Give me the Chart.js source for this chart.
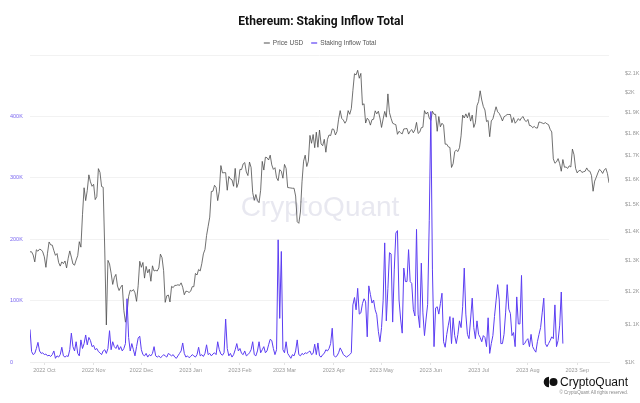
<!DOCTYPE html>
<html>
<head>
<meta charset="utf-8">
<script src="https://cdn.jsdelivr.net/npm/chart.js@4.4.0/dist/chart.umd.min.js"></script>
<style>
html,body{margin:0;padding:0;background:#fff;}
#wrap{width:640px;height:403px;position:relative;}
</style>
</head>
<body>
<div id="wrap"><canvas id="c" width="640" height="403"></canvas></div>
<script>
// ---- Data (daily) ----
const monthStarts = ['2022-09-22','2022-10-01','2022-11-01','2022-12-01','2023-01-01','2023-02-01','2023-03-01','2023-04-01','2023-05-01','2023-06-01','2023-07-01','2023-08-01','2023-09-01'];

const priceSep2022 = [1328,1328,1317,1294,1335,1330,1337,1335,1328];
const priceOct2022 = [1311,1276,1323,1362,1352,1351,1332,1316,1322,1292,1280,1294,1288,1297,1274,1306,1331,1310,1287,1283,1300,1315,1363,1344,1461,1566,1515,1555,1619,1590,1572];
const priceNov2022 = [1580,1519,1531,1645,1629,1571,1568,1334,1100,1299,1287,1257,1221,1243,1253,1216,1202,1212,1219,1142,1108,1135,1184,1203,1200,1205,1195,1169,1217,1296];
const priceDec2022 = [1276,1292,1241,1279,1258,1270,1231,1281,1264,1266,1264,1274,1320,1308,1265,1166,1186,1188,1167,1215,1211,1218,1218,1220,1218,1226,1212,1189,1200,1199,1196];
const priceJan2023 = [1200,1214,1214,1256,1251,1269,1264,1288,1321,1336,1385,1418,1452,1551,1552,1576,1567,1515,1552,1658,1627,1628,1628,1556,1612,1602,1598,1572,1646,1567,1586];
const priceFeb2023 = [1642,1641,1665,1671,1631,1616,1673,1650,1547,1516,1539,1515,1507,1556,1676,1639,1694,1692,1682,1703,1661,1642,1649,1607,1595,1641,1634,1605];
const priceMar2023 = [1663,1646,1567,1566,1565,1564,1564,1533,1435,1429,1471,1590,1677,1703,1654,1677,1792,1756,1796,1736,1807,1738,1817,1753,1745,1774,1716,1774,1794,1791,1822];
const priceApr2023 = [1820,1794,1810,1868,1910,1872,1864,1849,1862,1910,1892,1920,2012,2100,2094,2119,2076,2102,1938,1944,1850,1873,1864,1840,1866,1868,1909,1894,1907,1874];
const priceMay2023 = [1829,1869,1906,1878,1994,1900,1872,1849,1845,1842,1797,1811,1804,1799,1822,1823,1824,1798,1812,1819,1804,1818,1853,1801,1807,1828,1830,1910,1893,1903,1873];
const priceJun2023 = [1863,1907,1892,1892,1811,1881,1832,1849,1840,1752,1752,1740,1737,1650,1666,1718,1726,1719,1736,1790,1888,1874,1894,1875,1900,1859,1888,1829,1851,1934];
const priceJul2023 = [1955,2010,1963,1930,1913,1857,1862,1786,1860,1870,1900,1929,1904,1896,1880,1860,1880,1885,1891,1891,1891,1852,1876,1849,1858,1871,1862,1875,1881,1863,1857];
const priceAug2023 = [1867,1838,1837,1828,1834,1827,1826,1855,1853,1850,1847,1852,1846,1842,1820,1808,1687,1668,1674,1688,1666,1634,1684,1651,1652,1646,1657,1652,1730,1705,1646];
const priceSep2023 = [1627,1636,1638,1629,1632,1634,1648,1636,1634,1616,1552,1593,1609,1627,1642,1636,1625,1639,1646,1625,1586];

// Staking inflow, thousands
const stakingSep2022 = [53,17,12,14,22,32,18,14,15];
const stakingOct2022 = [12,13,10,11,9,12,18,6,10,8,12,24,10,8,10,9,20,47,25,18,33,14,10,36,22,30,44,28,40,35,25];
const stakingNov2022 = [27,20,22,17,15,12,18,20,14,22,51,20,33,25,22,28,20,25,18,22,30,103,40,18,30,20,10,25,39,42];
const stakingDec2022 = [20,12,10,14,8,12,10,14,25,10,8,10,7,9,12,10,8,14,12,10,12,8,6,10,14,18,31,14,8,10,7];
const stakingJan2023 = [9,12,10,8,12,24,10,12,9,14,28,12,14,10,13,15,12,33,20,13,11,15,70,22,10,14,8,12,20,30,18];
const stakingFeb2023 = [22,14,12,18,10,12,15,20,33,12,10,18,33,15,20,25,15,18,28,37,35,22,12,20,199,71,180,20];
const stakingMar2023 = [15,33,14,10,6,12,10,18,36,12,10,14,12,15,14,16,18,12,14,29,12,31,10,8,12,14,20,18,22,30,55];
const stakingApr2023 = [11,8,10,15,23,18,12,10,8,10,12,15,93,105,85,120,78,80,95,103,98,41,124,110,96,101,85,77,50,33];
const stakingMay2023 = [56,100,194,67,120,178,176,65,150,210,214,101,70,47,153,131,131,183,131,128,85,75,216,78,56,161,80,43,70,94,230];
const stakingJun2023 = [408,150,25,88,90,78,95,112,33,24,45,60,74,30,72,43,30,45,67,56,90,153,78,45,38,70,104,56,38,67];
const stakingJul2023 = [45,40,33,43,40,25,72,14,30,43,74,100,126,101,30,30,45,80,126,86,79,43,48,25,106,62,62,141,28,30,35];
const stakingAug2023 = [38,25,45,25,20,16,33,45,56,80,104,30,25,30,35,41,38,93,25,35,60,114,30];

const priceMonths = [priceSep2022,priceOct2022,priceNov2022,priceDec2022,priceJan2023,priceFeb2023,priceMar2023,priceApr2023,priceMay2023,priceJun2023,priceJul2023,priceAug2023,priceSep2023];
const stakingMonths = [stakingSep2022,stakingOct2022,stakingNov2022,stakingDec2022,stakingJan2023,stakingFeb2023,stakingMar2023,stakingApr2023,stakingMay2023,stakingJun2023,stakingJul2023,stakingAug2023];

const xTickDates = ['2022-10-01','2022-11-01','2022-12-01','2023-01-01','2023-02-01','2023-03-01','2023-04-01','2023-05-01','2023-06-01','2023-07-01','2023-08-01','2023-09-01'];
const xTickLabels = ['2022 Oct','2022 Nov','2022 Dec','2023 Jan','2023 Feb','2023 Mar','2023 Apr','2023 May','2023 Jun','2023 Jul','2023 Aug','2023 Sep'];
const stakeTicks = [0,100,200,300,400,500];
const priceTicks = [1000,1100,1200,1300,1400,1500,1600,1700,1800,1900,2000,2100];

// ---- helpers ----
const DAY = 86400000;
const base = Date.parse(monthStarts[0] + 'T00:00:00Z');
const dayIdx = s => Math.round((Date.parse(s + 'T00:00:00Z') - base) / DAY);
function toPoints(months){
  const pts = [];
  months.forEach((arr, i) => {
    const s = dayIdx(monthStarts[i]);
    arr.forEach((v, j) => pts.push({x: s + j, y: v}));
  });
  return pts;
}
const pricePts = toPoints(priceMonths);
const stakingPts = toPoints(stakingMonths);
const xTickIdx = xTickDates.map(dayIdx);
const xMax = pricePts[pricePts.length - 1].x;

Chart.defaults.font.family = "'Liberation Sans', Arial, sans-serif";

const decor = {
  id: 'decor',
  beforeDatasetsDraw(chart){
    const {ctx, chartArea:a} = chart;
    ctx.save();
    ctx.fillStyle = 'rgba(214,214,228,0.55)';
    ctx.font = "28px 'Liberation Sans', Arial, sans-serif";
    ctx.textAlign = 'center';
    ctx.textBaseline = 'middle';
    ctx.fillText('CryptoQuant', 320, 208);
    ctx.restore();
  },
  afterDraw(chart){
    const {ctx} = chart;
    ctx.save();
    // title
    ctx.fillStyle = '#111';
    ctx.font = "bold 12px Roboto, 'Liberation Sans', sans-serif";
    ctx.textAlign = 'center';
    ctx.textBaseline = 'middle';
    ctx.fillText('Ethereum: Staking Inflow Total', 321, 22);
    // legend
    ctx.font = "6.5px 'Liberation Sans', Arial, sans-serif";
    ctx.textAlign = 'left';
    const items = [{t:'Price USD', c:'#777'}, {t:'Staking Inflow Total', c:'#6a4ff5'}];
    const sw = 6, gap = 3, sep = 8;
    const widths = items.map(it => sw + gap + ctx.measureText(it.t).width);
    const total = widths.reduce((p,c)=>p+c,0) + sep*(items.length-1);
    let x = 320 - total/2;
    const y = 43;
    items.forEach((it,i) => {
      ctx.strokeStyle = it.c; ctx.lineWidth = 1.3;
      ctx.beginPath(); ctx.moveTo(x, y); ctx.lineTo(x+sw, y); ctx.stroke();
      ctx.fillStyle = '#555';
      ctx.fillText(it.t, x + sw + gap, y);
      x += widths[i] + sep;
    });
    // logo
    ctx.fillStyle = '#111';
    ctx.beginPath(); ctx.arc(549, 382, 5.3, Math.PI/2, Math.PI*1.5); ctx.closePath(); ctx.fill();
    ctx.beginPath(); ctx.arc(553.5, 382, 4, 0, Math.PI*2); ctx.fill();
    ctx.font = "12px 'Liberation Sans', Arial, sans-serif";
    ctx.textAlign = 'right';
    ctx.fillText('CryptoQuant', 628, 382.5);
    ctx.fillStyle = '#888';
    ctx.font = "4.5px 'Liberation Sans', Arial, sans-serif";
    ctx.fillText('\u00A9 CryptoQuant All rights reserved.', 628, 393);
    ctx.restore();
  }
};

new Chart(document.getElementById('c').getContext('2d'), {
  type: 'line',
  data: {
    datasets: [
      {label: 'Price USD', data: pricePts, yAxisID: 'yPrice', borderColor: '#4d4d4d', borderWidth: 0.8, pointRadius: 0, tension: 0, order: 1, borderJoinStyle: 'round'},
      {label: 'Staking Inflow Total', data: stakingPts, yAxisID: 'yStake', borderColor: '#5b3df2', borderWidth: 1, pointRadius: 0, tension: 0, order: 0, borderJoinStyle: 'round'}
    ]
  },
  options: {
    responsive: false,
    animation: false,
    layout: {padding: {left: 10, right: 0, top: 55, bottom: 28}},
    plugins: {legend: {display: false}, title: {display: false}, tooltip: {enabled: false}},
    scales: {
      x: {
        type: 'linear', min: 0, max: xMax,
        afterBuildTicks: s => { s.ticks = xTickIdx.map(v => ({value: v})); },
        ticks: {callback: v => xTickLabels[xTickIdx.indexOf(v)], autoSkip: false, maxRotation: 0, color: '#999', font: {size: 5.5}, padding: 2},
        grid: {drawOnChartArea: false, drawTicks: true, tickLength: 3, color: '#e2e2e2'},
        border: {color: '#eeeeee'},
        afterFit: s => { s.height = 13; }
      },
      yStake: {
        type: 'linear', position: 'left', min: 0, max: 500,
        afterBuildTicks: s => { s.ticks = stakeTicks.map(v => ({value: v})); },
        ticks: {callback: v => v === 0 ? '0' : (v >= 500 ? '' : v + 'K'), color: '#7b68f0', font: {size: 5.5}, crossAlign: 'far', padding: 0},
        grid: {color: '#f2f2f2', drawTicks: false},
        border: {display: false},
        afterFit: s => { s.width = 20; }
      },
      yPrice: {
        type: 'logarithmic', position: 'right', min: 1000, max: 2204,
        afterBuildTicks: s => { s.ticks = priceTicks.map(v => ({value: v})); },
        ticks: {callback: v => '$' + parseFloat((v/1000).toFixed(1)) + 'K', color: '#999', font: {size: 5.5}, padding: 8, autoSkip: false},
        grid: {display: false},
        border: {display: false},
        afterFit: s => { s.width = 31; }
      }
    }
  },
  plugins: [decor]
});
</script>
</body>
</html>
